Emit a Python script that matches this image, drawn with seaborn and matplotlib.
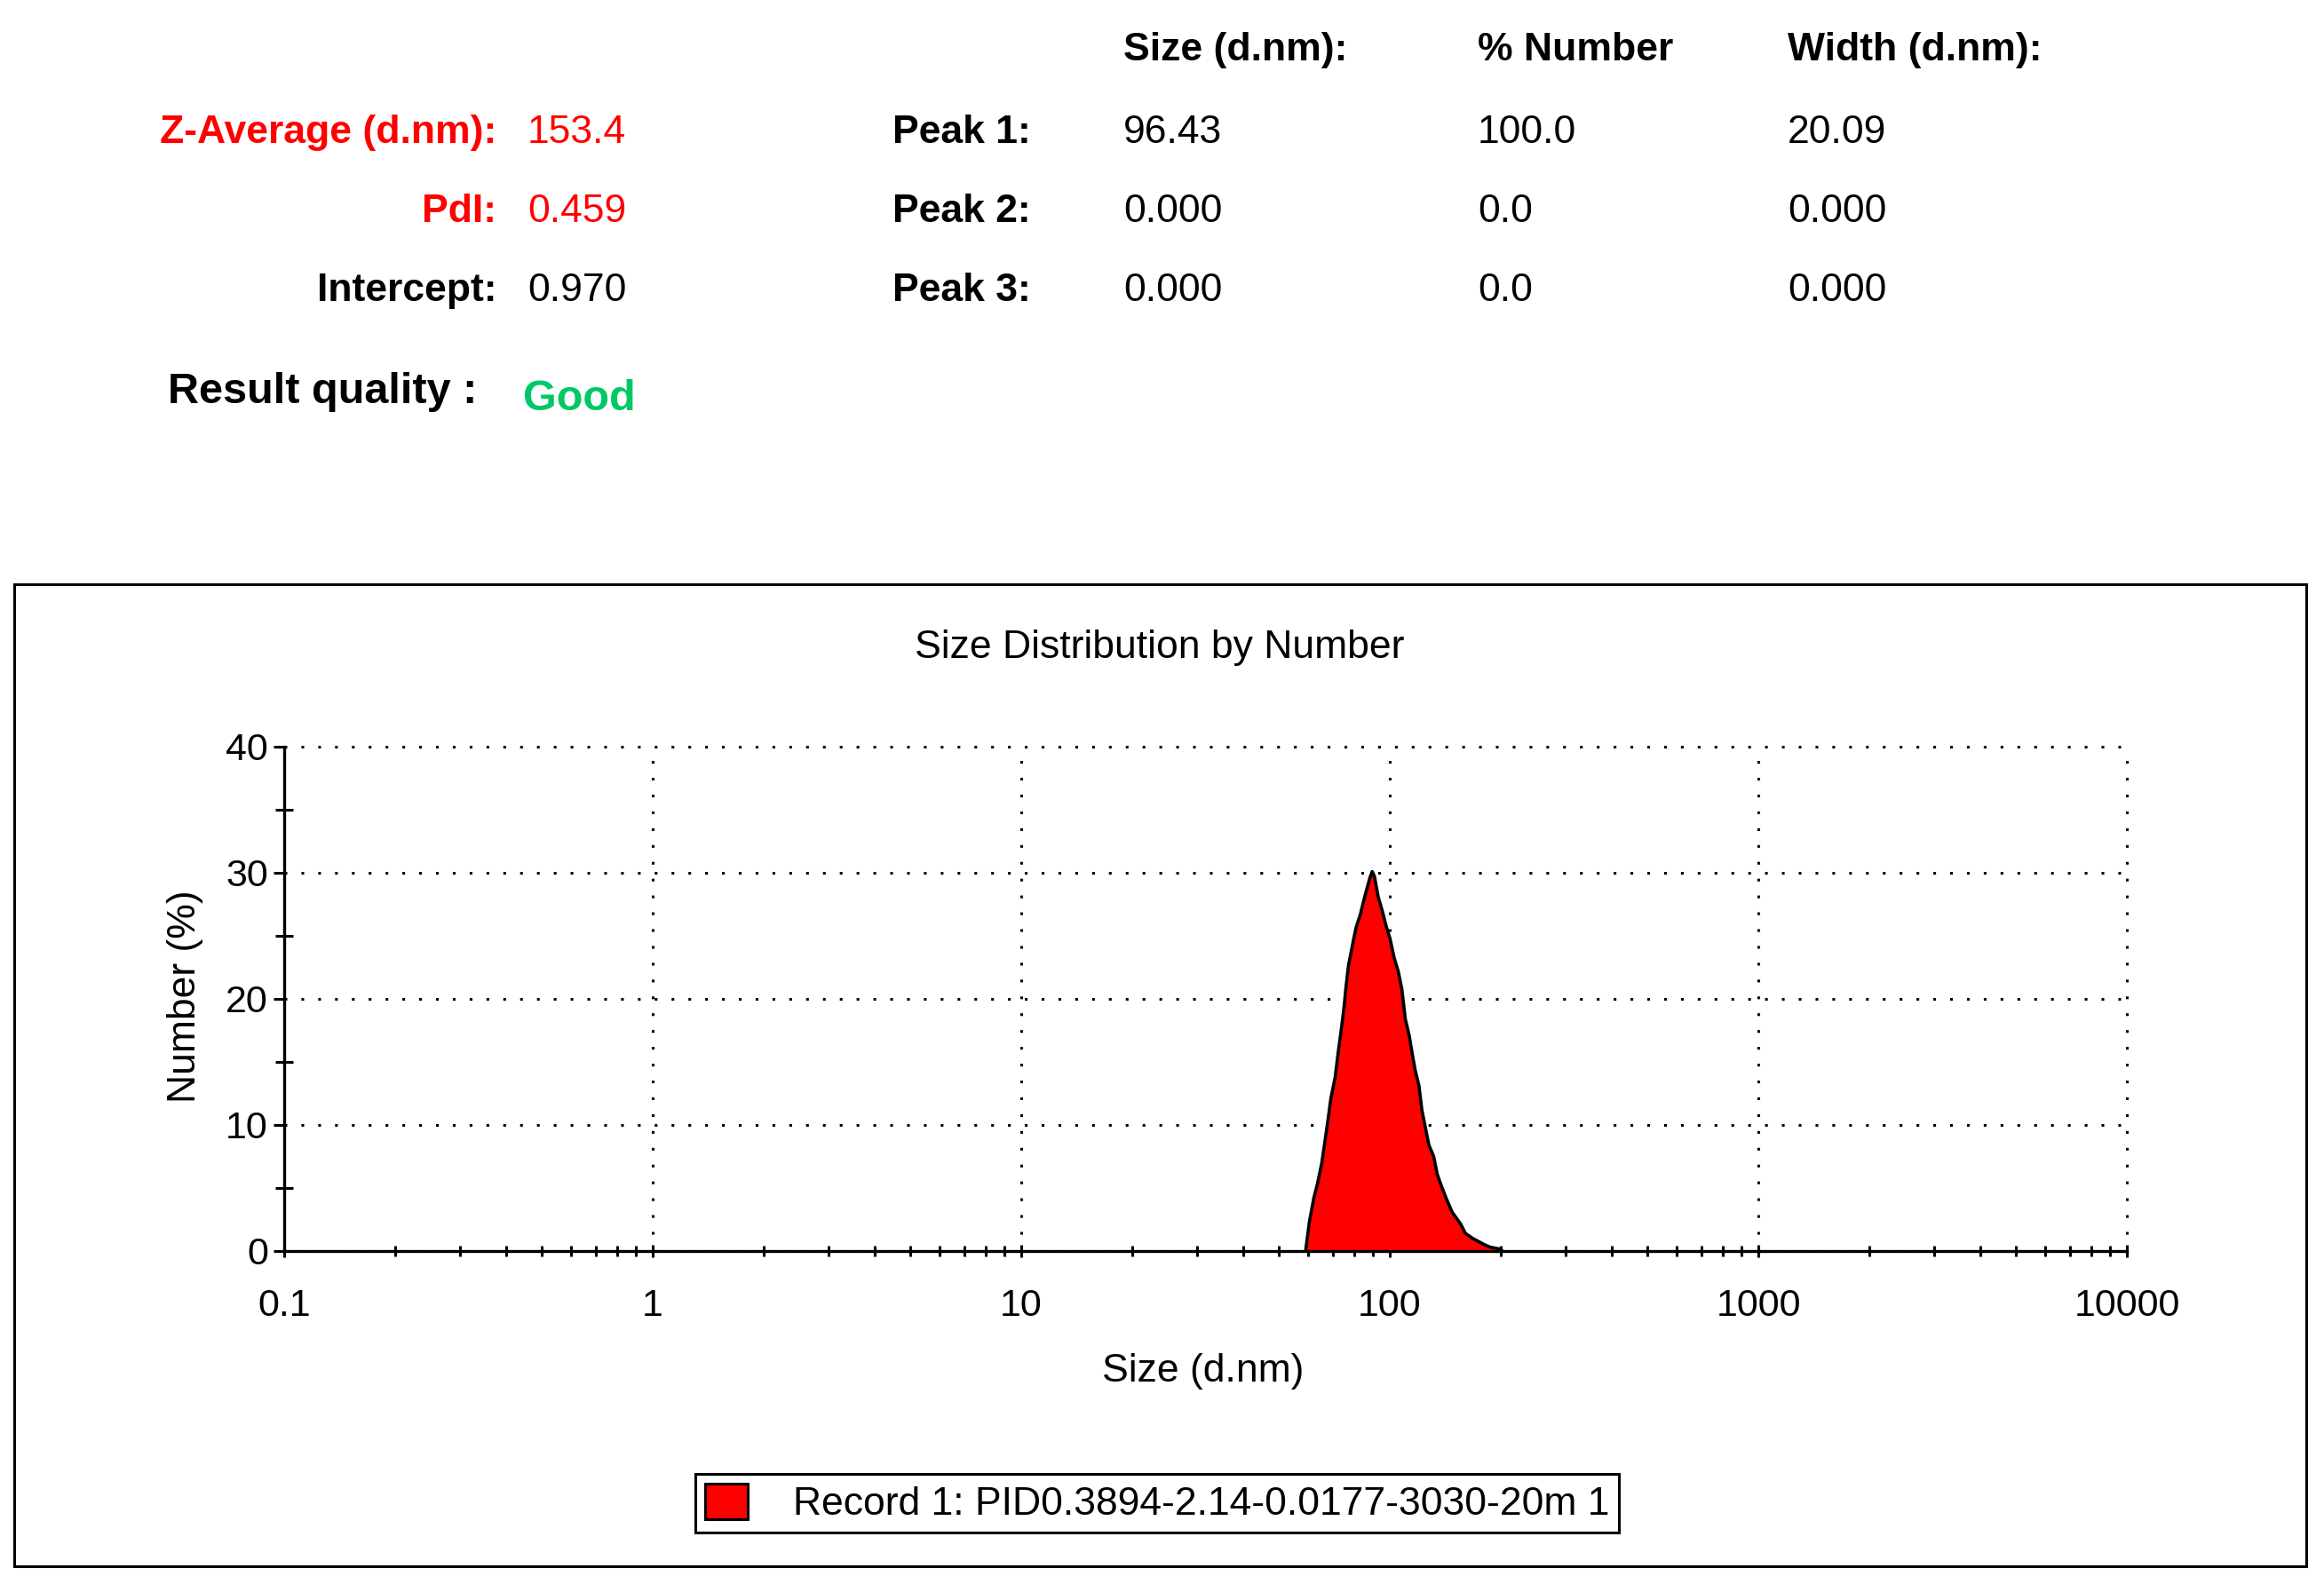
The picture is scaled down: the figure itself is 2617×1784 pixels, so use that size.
import numpy as np
import pandas as pd
import matplotlib
matplotlib.use("Agg")
import matplotlib.pyplot as plt
import seaborn as sns
from matplotlib.patches import Patch, Rectangle
from matplotlib.ticker import LogLocator, FixedLocator, NullFormatter

# --- data ---
sizes_nm = [59.1, 60.5, 62.2, 63.6, 65.4, 67.9, 69.2, 71.1, 72.4, 73.8, 75.1, 76.1,
            77.3, 79.0, 80.9, 83.2, 85.5, 88.3, 89.6, 90.9, 93.0, 95.6, 97.9, 100.1,
            102.9, 105.4, 107.8, 110.2, 112.9, 115.0, 117.1, 120.0, 122.2, 124.9,
            127.7, 131.6, 134.5, 137.5, 142.2, 147.6, 156.0, 160.4, 168.0, 180.8,
            187.7, 200.3, 202.0]
number_pct = [0.0, 2.3, 4.2, 5.3, 7.0, 10.3, 12.1, 13.8, 15.7, 17.5, 19.3, 21.0,
              22.7, 24.1, 25.6, 26.7, 28.1, 29.6, 30.1, 29.7, 28.1, 26.9, 25.7, 24.8,
              23.2, 22.2, 20.8, 18.4, 17.1, 15.7, 14.4, 13.1, 11.2, 9.8,
              8.4, 7.5, 6.1, 5.3, 4.2, 3.1, 2.1, 1.4, 1.0, 0.5,
              0.3, 0.15, 0.0]

x_ticks = [0.1, 1, 10, 100, 1000, 10000]
x_tick_labels = ["0.1", "1", "10", "100", "1000", "10000"]
y_ticks = [0, 10, 20, 30, 40]

summary_labels = ["Z-Average (d.nm):", "PdI:", "Intercept:"]
summary_values = ["153.4", "0.459", "0.970"]
summary_colors = ["red", "red", "black"]
peak_labels = ["Peak 1:", "Peak 2:", "Peak 3:"]
col_headers = ["Size (d.nm):", "% Number", "Width (d.nm):"]
peak_size = ["96.43", "0.000", "0.000"]
peak_pct = ["100.0", "0.0", "0.0"]
peak_width = ["20.09", "0.000", "0.000"]
quality_label = "Result quality :"
quality_value = "Good"
record_name = "Record 1: PID0.3894-2.14-0.0177-3030-20m 1"

df = pd.DataFrame({"size": sizes_nm, "number": number_pct})

# --- style ---
sns.set_theme(style="white")
plt.rcParams["font.family"] = ["Liberation Sans", "DejaVu Sans"]
plt.rcParams["text.color"] = "black"
plt.rcParams["axes.labelcolor"] = "black"
plt.rcParams["xtick.color"] = "black"
plt.rcParams["ytick.color"] = "black"

W, H = 2617, 1784
def fx(px):
    return px / W
def fy(py):
    return 1 - py / H

fig = plt.figure(figsize=(W / 100, H / 100), dpi=100)
fig.patch.set_facecolor("white")

# axes box in pixels: x 320..2395, y 841..1409
ax = fig.add_axes([fx(320), fy(1409), (2395 - 320) / W, (1409 - 841) / H])
ax.set_facecolor("white")

ax.fill_between(df["size"], df["number"], 0, color="red", lw=0, zorder=2)
sns.lineplot(data=df, x="size", y="number", color="black", lw=2.6, ax=ax, zorder=3)

ax.set_xscale("log")
ax.set_xlim(0.1, 10000)
ax.set_ylim(0, 40)
ax.xaxis.set_major_locator(FixedLocator(x_ticks))
ax.set_xticklabels(x_tick_labels)
ax.xaxis.set_minor_locator(LogLocator(base=10, subs=np.arange(2, 10), numticks=20))
ax.xaxis.set_minor_formatter(NullFormatter())
ax.yaxis.set_major_locator(FixedLocator(y_ticks))
ax.yaxis.set_minor_locator(FixedLocator([5, 15, 25, 35]))

ax.tick_params(axis="x", which="major", direction="inout", length=10, width=2.2,
               labelsize=31, pad=25, colors="black", bottom=True)
ax.tick_params(axis="x", which="minor", direction="inout", length=8, width=2.2, bottom=True)
ax.tick_params(axis="y", which="major", direction="out", length=9, width=2.2,
               labelsize=31, pad=4, colors="black", left=True)
ax.tick_params(axis="y", which="minor", direction="inout", length=14, width=2.2, left=True)

dot = (0, (1, 5.2))
ax.grid(True, which="major", axis="both", color="black", lw=2.2, linestyle=dot, clip_on=False)
ax.grid(False, which="minor")

for s in ["top", "right"]:
    ax.spines[s].set_visible(False)
for s in ["left", "bottom"]:
    ax.spines[s].set_color("black")
    ax.spines[s].set_linewidth(2.4)
    ax.spines[s].set_zorder(4)

ax.set_xlabel("Size (d.nm)", fontsize=32, color="black")
ax.xaxis.set_label_coords(0.4985, (1409 - 1556) / (1409 - 841))
ax.xaxis.label.set_verticalalignment("baseline")
ax.set_ylabel("Number (%)", fontsize=32, color="black")
ax.yaxis.set_label_coords((229 - 320) / (2395 - 320), 0.505)

# chart title and outer frame
fig.text(fx(1306), fy(741), "Size Distribution by Number", ha="center", va="baseline",
         fontsize=32, color="black")
fig.add_artist(Rectangle((fx(16), fy(1764)), (2597 - 16) / W, (1764 - 658) / H,
                         transform=fig.transFigure, fill=False, lw=2.2, edgecolor="black"))

# legend
handle = Patch(facecolor="red", edgecolor="black", lw=2.2)
leg = ax.legend(handles=[handle], labels=[record_name], loc="center",
                bbox_to_anchor=(fx(1303), fy(1693)), bbox_transform=fig.transFigure,
                frameon=True, fancybox=False, framealpha=1, edgecolor="black",
                fontsize=32, handlelength=1.08, handleheight=1.0, handletextpad=1.15,
                borderpad=0.25, borderaxespad=0, labelcolor="black")
leg.get_frame().set_linewidth(2.2)

# header table
row_base = [161, 250, 339]
for lab, val, col, yb in zip(summary_labels, summary_values, summary_colors, row_base):
    fig.text(fx(559), fy(yb), lab, ha="right", va="baseline", fontsize=32,
             fontweight="bold", color=col)
    fig.text(fx(594), fy(yb), val, ha="left", va="baseline", fontsize=32, color=col)

col_x = [1265, 1664, 2013]
for hdr, cx in zip(col_headers, col_x):
    fig.text(fx(cx), fy(68), hdr, ha="left", va="baseline", fontsize=32,
             fontweight="bold", color="black")

for i, yb in enumerate(row_base):
    fig.text(fx(1005), fy(yb), peak_labels[i], ha="left", va="baseline", fontsize=32,
             fontweight="bold", color="black")
    for cx, vals in zip(col_x, [peak_size, peak_pct, peak_width]):
        fig.text(fx(cx), fy(yb), vals[i], ha="left", va="baseline", fontsize=32, color="black")

fig.text(fx(189), fy(454), quality_label, ha="left", va="baseline", fontsize=35,
         fontweight="bold", color="black")
fig.text(fx(589), fy(462), quality_value, ha="left", va="baseline", fontsize=35,
         fontweight="bold", color="#00C864")

fig.savefig("out.png", dpi=100, facecolor="white")
